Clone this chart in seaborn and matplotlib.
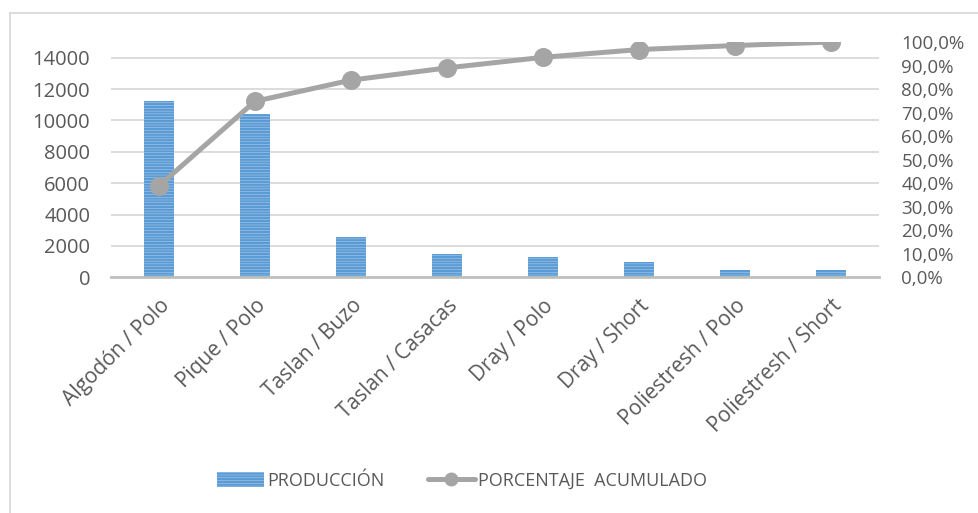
import matplotlib
matplotlib.use("Agg")
import matplotlib.pyplot as plt
import seaborn as sns
import pandas as pd
from matplotlib.ticker import FuncFormatter, MultipleLocator
from matplotlib.patches import Patch
from matplotlib.lines import Line2D

# ---- data ----
categories = ["Algodón / Polo", "Pique / Polo", "Taslan / Buzo", "Taslan / Casacas",
              "Dray / Polo", "Dray / Short", "Poliestresh / Polo", "Poliestresh / Short"]
produccion = [11250, 10400, 2600, 1500, 1300, 950, 480, 450]
porcentaje_acumulado = [0.389, 0.748, 0.838, 0.890, 0.935, 0.968, 0.985, 1.000]
left_ticks = [0, 2000, 4000, 6000, 8000, 10000, 12000, 14000]

df = pd.DataFrame({"cat": categories, "prod": produccion, "pct": porcentaje_acumulado})

sns.set_theme(style="white")
plt.rcParams["font.family"] = ["Open Sans", "DejaVu Sans"]
plt.rcParams["hatch.linewidth"] = 1.7

TEXT = "#595959"
BAR_FACE = "#C9DEF2"
BAR_HATCH = "#5B9BD5"
LINE = "#A5A5A5"

fig = plt.figure(figsize=(9.79, 5.13), dpi=100)
ax = fig.add_axes([0.1134, 0.4594, 0.7845, 0.4587])

sns.barplot(data=df, x="cat", y="prod", ax=ax, color=BAR_FACE, width=0.32,
            hatch="------", edgecolor=BAR_HATCH, linewidth=0, saturation=1)

ax.set_ylim(0, 15000)
ax.set_yticks(left_ticks)
ax.yaxis.grid(True, color="#D9D9D9", linewidth=1.3)
ax.set_axisbelow(True)
for s in ["top", "right", "left"]:
    ax.spines[s].set_visible(False)
ax.spines["bottom"].set_color("#BFBFBF")
ax.spines["bottom"].set_linewidth(2)
ax.set_xlabel("")
ax.set_ylabel("")
ax.tick_params(axis="y", length=0, labelsize=14.5, labelcolor=TEXT, pad=15)
ax.tick_params(axis="x", length=0, labelsize=15, labelcolor=TEXT, pad=13)
for lbl in ax.get_xticklabels():
    lbl.set_rotation(45)
    lbl.set_ha("right")
    lbl.set_rotation_mode("anchor")

ax2 = ax.twinx()
sns.pointplot(data=df, x="cat", y="pct", ax=ax2, color=LINE, markers="o",
              markersize=11, linewidth=3.6, errorbar=None)
ax2.set_ylim(0, 1.0)
ax2.yaxis.set_major_locator(MultipleLocator(0.1))
ax2.yaxis.set_major_formatter(FuncFormatter(lambda v, p: f"{v*100:.1f}%".replace(".", ",")))
for s in ["top", "right", "left", "bottom"]:
    ax2.spines[s].set_visible(False)
ax2.set_ylabel("")
ax2.set_xlabel("")
ax2.tick_params(axis="y", length=0, labelsize=13.5, labelcolor=TEXT, pad=16)
ax2.set_xlim(ax.get_xlim())

# legend
h1 = Patch(facecolor=BAR_FACE, edgecolor=BAR_HATCH, hatch="------", linewidth=0)
h2 = Line2D([], [], color=LINE, linewidth=3.6, marker="o", markersize=9)
fig.legend([h1, h2], ["PRODUCCIÓN", "PORCENTAJE  ACUMULADO"], loc="center",
           bbox_to_anchor=(0.472, 0.062), ncol=2, frameon=False, fontsize=13,
           labelcolor=TEXT, handlelength=2.6, handleheight=0.9, columnspacing=2.4,
           handletextpad=0.2)

# outer border (chart area)
fig.add_artist(Line2D([10/979, 1.0], [1 - 13/513] * 2, transform=fig.transFigure,
                      color="#D9D9D9", linewidth=1.3))
fig.add_artist(Line2D([10/979] * 2, [0, 1 - 13/513], transform=fig.transFigure,
                      color="#D9D9D9", linewidth=1.3))

fig.savefig("out.png", dpi=100)
